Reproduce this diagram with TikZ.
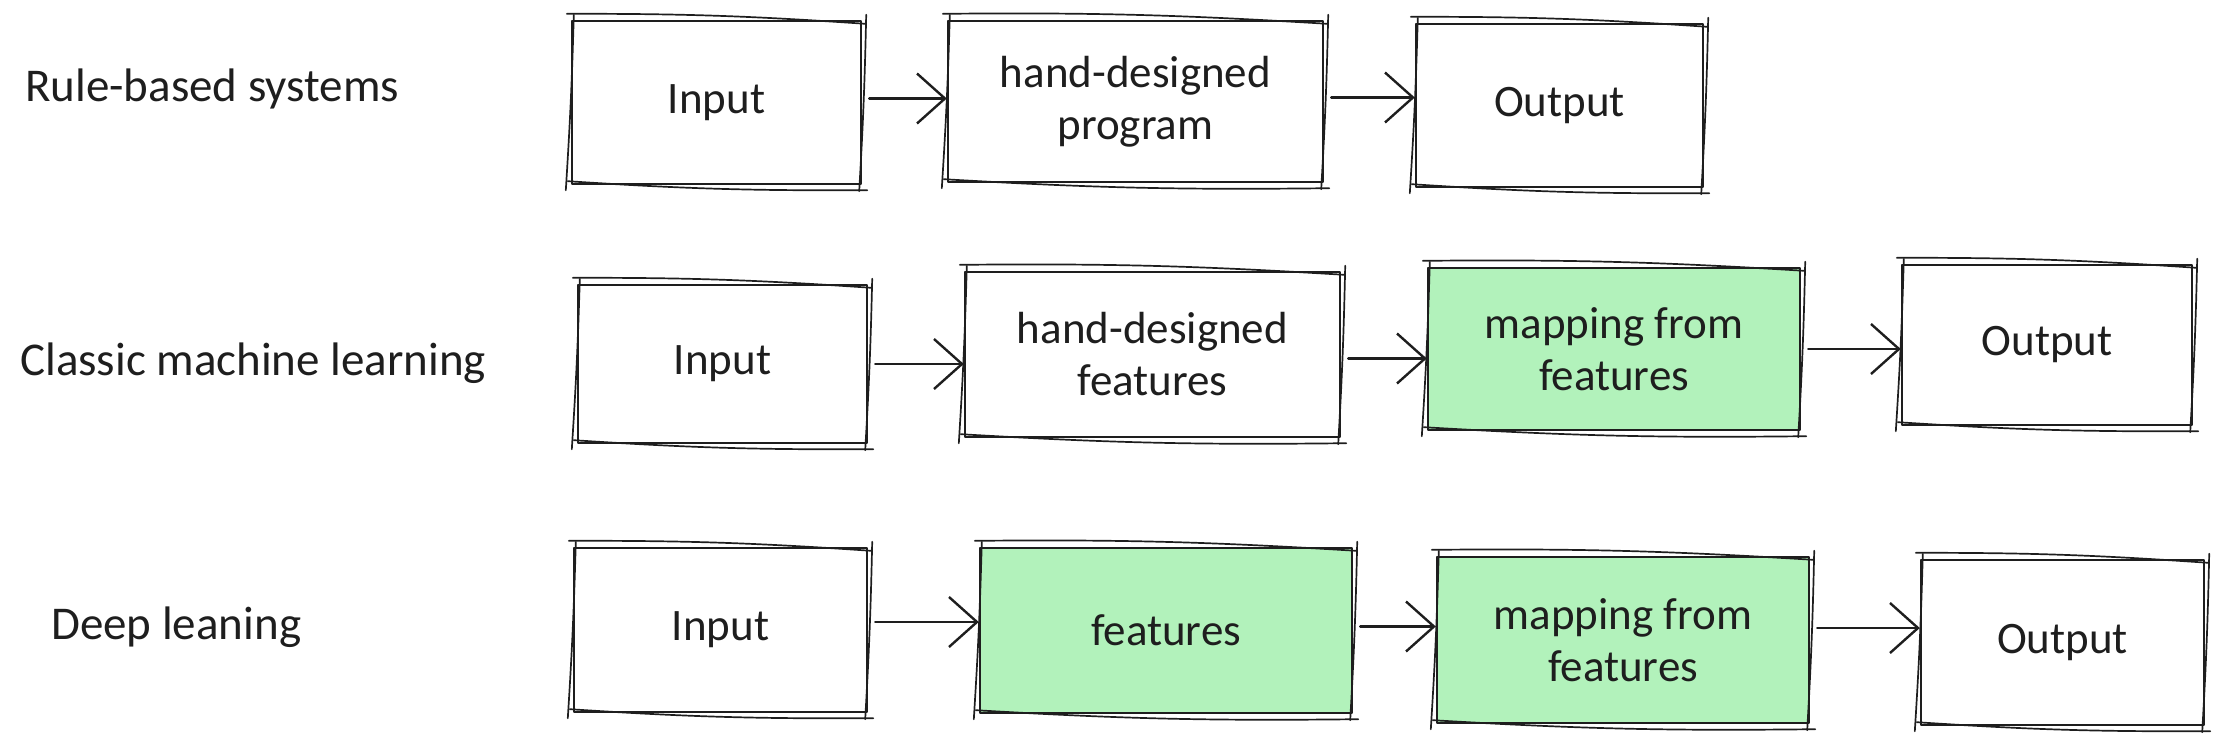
\documentclass[tikz,border=0pt]{standalone}
\usepackage{fontspec}
\setmainfont{Carlito}
\usetikzlibrary{arrows.meta}
\definecolor{ink}{HTML}{1E1E1E}
\definecolor{mint}{HTML}{B2F2BB}
\tikzset{
  sk/.style={draw=ink, line width=2.4pt, line cap=round, line join=round},
  skthin/.style={draw=ink, line width=1.7pt, line cap=round},
  box/.style={sk, rectangle, inner sep=0pt, align=center, text=ink,
    font=\fontsize{45}{52}\selectfont},
  greenbox/.style={box, fill=mint},
  lbl/.style={font=\fontsize{47}{52}\selectfont, text=ink, anchor=west, inner sep=0pt},
  arr/.style={sk, shorten <=7pt, -{Straight Barb[length=28pt,width=50pt,line width=2.4pt]}},
}
\newcommand{\sketchdup}[1]{%
  \draw[skthin] ([shift={(-4pt,6pt)}]#1.north west) to[bend left=2] ([shift={(3pt,-4pt)}]#1.north east);
  \draw[skthin] ([shift={(4pt,5pt)}]#1.north east) to[bend left=1] ([shift={(-3pt,-6pt)}]#1.south east);
  \draw[skthin] ([shift={(5pt,-5pt)}]#1.south east) to[bend left=2] ([shift={(-3pt,4pt)}]#1.south west);
  \draw[skthin] ([shift={(-5pt,-5pt)}]#1.south west) to[bend right=1] ([shift={(3pt,5pt)}]#1.north west);
}
\begin{document}
\begin{tikzpicture}[x=1pt, y=-1pt]
\useasboundingbox (0,0) rectangle (2225,744);

% row labels
\node[lbl] (l1) at (25,89) {Rule-based systems};
\node[lbl] (l2) at (20,363) {Classic machine learning};
\node[lbl] (l3) at (51,627) {Deep leaning};

% row 1
\node[box, minimum width=289pt, minimum height=163pt] (in1) at (716.5,102.5) {Input};
\node[box, minimum width=375pt, minimum height=161pt] (hp1) at (1135.5,101.5) {hand-designed\\program};
\node[box, minimum width=287pt, minimum height=163pt] (out1) at (1559.5,105.5) {Output};

% row 2
\node[box, minimum width=289pt, minimum height=158pt] (in2) at (722.5,364) {Input};
\node[box, minimum width=375pt, minimum height=165pt] (hf2) at (1152.5,354.5) {hand-designed\\features};
\node[greenbox, minimum width=372pt, minimum height=162pt] (mp2) at (1614,349) {mapping from\\features};
\node[box, minimum width=290pt, minimum height=160pt] (out2) at (2047,345) {Output};

% row 3
\node[box, minimum width=293pt, minimum height=164pt] (in3) at (720.5,630) {Input};
\node[greenbox, minimum width=372pt, minimum height=165pt] (ft3) at (1166,630.5) {features};
\node[greenbox, minimum width=372pt, minimum height=166pt] (mp3) at (1623,640) {mapping from\\features};
\node[box, minimum width=283pt, minimum height=165pt] (out3) at (2062.5,642.5) {Output};

% sketchy second strokes
\foreach \n in {in1,hp1,out1,in2,hf2,mp2,out2,in3,ft3,mp3,out3} {\sketchdup{\n}}

% arrows
\draw[arr] ([yshift=4pt]in1.east) -- ([yshift=4pt]in1.east -| hp1.west);
\draw[arr] ([yshift=4pt]hp1.east) -- ([yshift=4pt]hp1.east -| out1.west);
\draw[arr] (in2.east) -- (in2.east -| hf2.west);
\draw[arr] ([yshift=-4pt]hf2.east) -- ([yshift=-4pt]hf2.east -| mp2.west);
\draw[arr] (mp2.east) -- (mp2.east -| out2.west);
\draw[arr] ([yshift=8pt]in3.east) -- ([yshift=8pt]in3.east -| ft3.west);
\draw[arr] ([yshift=4pt]ft3.east) -- ([yshift=4pt]ft3.east -| mp3.west);
\draw[arr] ([yshift=12pt]mp3.east) -- ([yshift=12pt]mp3.east -| out3.west);
\end{tikzpicture}
\end{document}
